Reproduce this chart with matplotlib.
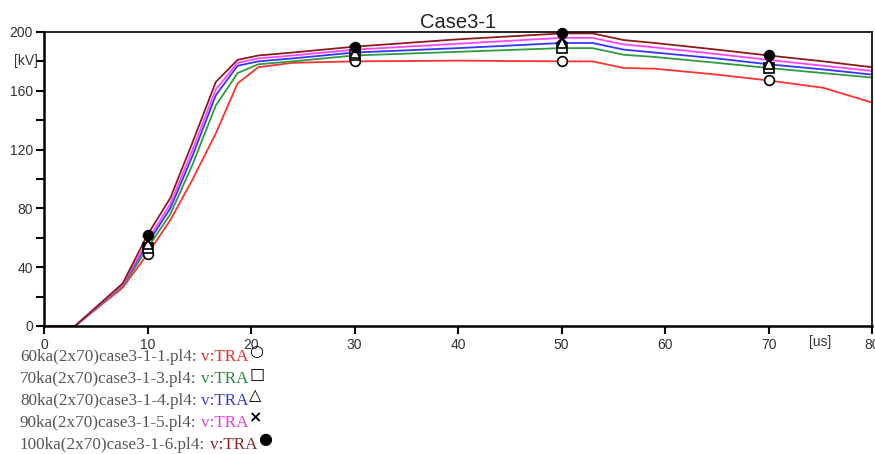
# -*- coding: utf-8 -*-

import numpy as np
import matplotlib
matplotlib.use("Agg")
import matplotlib.pyplot as plt
from matplotlib.ticker import MultipleLocator

# time axis in us
t_us = [0, 3, 7.6, 10, 12.2, 14.3, 16.6, 18.7, 20.7, 24, 30, 40, 50, 53, 56, 59, 65, 70, 75.3, 80]

# v:TRA in kV for each run
v_60ka = [0, 0, 26, 49, 72, 99, 131, 165, 176, 179, 180, 180.5, 180, 180, 175.5, 175, 171, 167, 162, 152]
v_70ka = [0, 0, 27, 53, 76, 109, 150, 172, 178, 180, 184, 186.5, 189, 189, 184.5, 183, 179, 175.5, 172, 169]
v_80ka = [0, 0, 28, 56, 80, 115, 157, 177, 180, 182, 186, 189, 192.5, 192.5, 188, 186, 182, 178, 174.5, 171]
v_90ka = [0, 0, 28, 58, 83, 119, 161, 179, 182, 184, 188, 192, 196, 196, 191.5, 189.5, 185, 181, 177, 173.5]
v_100ka = [0, 0, 29, 62, 87, 124, 166, 181, 184, 186, 190, 195, 199, 199, 194.5, 192.5, 188, 184, 180, 176]

file_names = ["60ka(2x70)case3-1-1.pl4:", "70ka(2x70)case3-1-3.pl4:", "80ka(2x70)case3-1-4.pl4:",
              "90ka(2x70)case3-1-5.pl4:", "100ka(2x70)case3-1-6.pl4:"]
marker_times = [10, 30, 50, 70]

series = [v_60ka, v_70ka, v_80ka, v_90ka, v_100ka]
line_colors = ["#ff3030", "#2e9b3e", "#3535ff", "#ff45ff", "#8b1c1c"]
text_colors = ["#e8302a", "#2e8b3c", "#3a3adf", "#e040e0", "#8b2525"]
markers = ["o", "s", "^", "x", "o"]
marker_faces = ["white", "white", "white", "black", "black"]
legend_syms = ["\u25cb", "\u25a1", "\u25b3", "\u00d7", "\u25cf"]

plt.rcParams["font.family"] = ["Liberation Sans", "DejaVu Sans"]

fig = plt.figure(figsize=(8.75, 4.54), dpi=100)
ax = fig.add_axes([0.0503, 0.282, 0.9463, 0.6476])

mark_idx = [t_us.index(m) for m in marker_times]
for vals, lc, mk, mf in zip(series, line_colors, markers, marker_faces):
    ax.plot(t_us, vals, color=lc, lw=1.3, zorder=2)
    ax.plot(np.array(t_us)[mark_idx], np.array(vals)[mark_idx], ls="none", marker=mk,
            ms=7, mfc=mf, mec="black", mew=1.2, zorder=3, clip_on=False)

ax.set_xlim(0, 80)
ax.set_ylim(0, 200)
ax.xaxis.set_major_locator(MultipleLocator(10))
ax.yaxis.set_major_locator(MultipleLocator(40))
ax.yaxis.set_minor_locator(MultipleLocator(20))
ax.tick_params(axis="both", which="major", direction="out", length=6, width=1.5,
               labelsize=10, labelcolor="#333333", pad=2)
ax.tick_params(axis="y", which="minor", direction="out", length=6, width=1.5)
ax.tick_params(axis="x", pad=3)
for s in ["left", "bottom"]:
    ax.spines[s].set_linewidth(1.8)
for s in ["top", "right"]:
    ax.spines[s].set_linewidth(1.2)

ax.text(-0.6, 180, "[kV]", ha="right", va="center", fontsize=10, color="#333333")
ax.text(75, -6, "[us]", ha="center", va="top", fontsize=10, color="#333333")

ax.set_title("Case3-1", fontsize=14.5, color="#222222", pad=3)

# legend text below the axes
y0 = 1 - 357 / 454
dy = 22 / 454
for i, (name, tc, sym) in enumerate(zip(file_names, text_colors, legend_syms)):
    t1 = fig.text(20 / 875, y0 - i * dy, name, color="#555555", family="Liberation Serif",
                  fontsize=12.3, va="center")
    t2 = ax.annotate("v:TRA", xy=(1, 0), xycoords=t1, xytext=(3.5, 0), textcoords="offset points",
                     color=tc, family="Liberation Serif", fontsize=12.3, va="bottom",
                     annotation_clip=False)
    ax.annotate(sym, xy=(1, 0.35), xycoords=t2, xytext=(0.3, 0), textcoords="offset points",
                color="black", family="DejaVu Sans", fontsize=11.5, fontweight="bold",
                va="bottom", annotation_clip=False)

plt.savefig("out.png", dpi=100)
